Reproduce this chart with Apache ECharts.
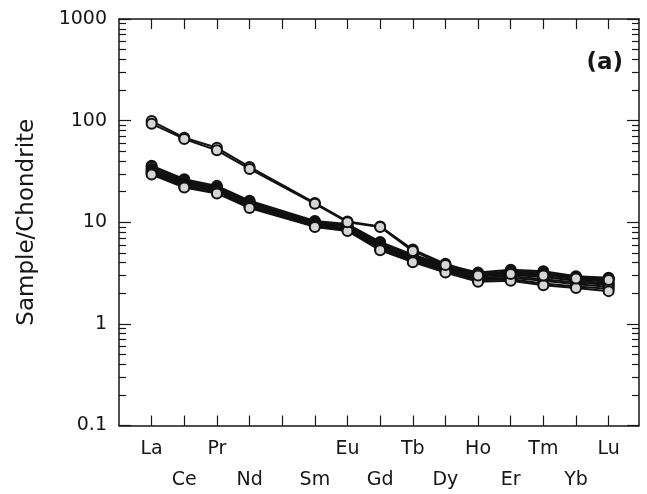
<!DOCTYPE html>
<html>
<head>
<meta charset="utf-8">
<script src="https://cdn.jsdelivr.net/npm/echarts@6/dist/echarts.min.js"></script>
<style>
html,body{margin:0;padding:0;background:#fff;}
#chart{width:647px;height:494px;}
</style>
</head>
<body>
<div id="chart"></div>
<script>
// Elements (Pm is a gap with no label and no data)
const elements = ['La','Ce','Pr','Nd','Pm','Sm','Eu','Gd','Tb','Dy','Ho','Er','Tm','Yb','Lu'];
const xLabels  = ['La','Ce','Pr','Nd','','Sm','Eu','Gd','Tb','Dy','Ho','Er','Tm','Yb','Lu'];
const yTicks = [0.1, 1, 10, 100, 1000];
const yMinorTicks = [0.2,0.3,0.4,0.5,0.6,0.7,0.8,0.9,
                     2,3,4,5,6,7,8,9,
                     20,30,40,50,60,70,80,90,
                     200,300,400,500,600,700,800,900];

// Chondrite-normalised REE patterns (La ... Lu, null at Pm)
const lowA = [36.0, 26.5, 22.8, 16.3, null, 10.3, 9.6, 6.4, 4.8, 3.8, 3.2, 3.4, 3.3, 2.95, 2.85];
const lowB = [35.0, 26.0, 22.0, 16.0, null, 10.1, 9.3, 6.2, 4.7, 3.7, 3.1, 3.3, 3.2, 2.85, 2.75];
const lowC = [33.5, 25.2, 21.6, 15.5, null, 9.9, 9.1, 6.0, 4.6, 3.65, 3.0, 3.15, 3.05, 2.75, 2.6];
const lowD = [32.5, 24.5, 21.2, 15.1, null, 9.7, 8.9, 5.85, 4.45, 3.55, 2.95, 3.05, 2.9, 2.65, 2.5];
const lowE = [31.5, 23.8, 20.7, 14.7, null, 9.5, 8.7, 5.7, 4.35, 3.45, 2.85, 2.95, 2.75, 2.55, 2.42];
const lowF = [30.8, 23.2, 20.1, 14.4, null, 9.3, 8.5, 5.55, 4.25, 3.4, 2.75, 2.85, 2.65, 2.45, 2.32];
const lowG = [30.0, 22.6, 19.6, 14.1, null, 9.15, 8.35, 5.45, 4.15, 3.32, 2.68, 2.75, 2.5, 2.33, 2.22];
const lowH = [29.5, 22.0, 19.2, 13.8, null, 9.0, 8.2, 5.3, 4.05, 3.2, 2.6, 2.65, 2.4, 2.25, 2.1];
const highA = [99.0, 68.0, 54.0, 35.0, null, 15.5, 10.2, 9.1, 5.4, 3.9, 3.1, 3.2, 3.1, 2.9, 2.8];
const highB = [93.0, 66.0, 51.0, 33.5, null, 15.2, 10.0, 9.0, 5.2, 3.8, 3.0, 3.1, 3.0, 2.8, 2.7];

const samples = [lowA, lowB, lowC, lowD, lowE, lowF, lowG, lowH, highA, highB];

const FONT = 'DejaVu Sans';
const INK = '#161616';

const chart = echarts.init(document.getElementById('chart'), null, {renderer: 'canvas'});

const allIdx = elements.map((e, i) => i);

function xAxisBase(pos, showLabel) {
  return {
    type: 'value', position: pos, min: -1, max: 14.93, interval: 1,
    axisLine: {show: true, onZero: false, lineStyle: {color: INK, width: 1.5}},
    axisTick: {show: true, inside: true, length: 10, customValues: allIdx, lineStyle: {color: INK, width: 1.2}},
    splitLine: {show: false},
    axisLabel: showLabel ? {
      show: true, customValues: allIdx, margin: 8, color: INK,
      fontFamily: FONT, fontSize: 19, lineHeight: 31, verticalAlign: 'top',
      formatter: function (v) {
        const i = Math.round(v);
        if (i < 0 || i >= xLabels.length || Math.abs(v - i) > 1e-6) return '';
        return (i % 2 === 1) ? '\n' + xLabels[i] : xLabels[i];
      }
    } : {show: false}
  };
}

function yAxisBase(pos, major, showLabel) {
  return {
    type: 'log', logBase: 10, position: pos, min: 0.1, max: 1000,
    axisLine: {show: major, onZero: false, lineStyle: {color: INK, width: 1.5}},
    axisTick: {show: true, inside: true, length: major ? 12 : 7,
               customValues: major ? yTicks : yMinorTicks,
               lineStyle: {color: INK, width: 1.2}},
    splitLine: {show: false},
    axisLabel: showLabel ? {
      show: true, customValues: yTicks, margin: 12, color: INK,
      fontFamily: FONT, fontSize: 19,
      formatter: function (v) { return String(+v.toPrecision(6)); }
    } : {show: false}
  };
}

const y0 = yAxisBase('left', true, true);
y0.name = 'Sample/Chondrite';
y0.nameLocation = 'middle';
y0.nameRotate = 90;
y0.nameGap = 80;
y0.nameTextStyle = {fontFamily: FONT, fontSize: 23, color: INK};

const option = {
  animation: false,
  backgroundColor: '#ffffff',
  title: {
    text: '(a)', right: 24, top: 52, padding: 0,
    textStyle: {fontFamily: FONT, fontWeight: 'bold', fontSize: 23, color: INK}
  },
  grid: {left: 119, right: 8, top: 19, bottom: 68.5, containLabel: false, outerBoundsMode: 'none'},
  xAxis: [xAxisBase('bottom', true), xAxisBase('top', false)],
  yAxis: [y0, yAxisBase('right', true, false), yAxisBase('left', false, false), yAxisBase('right', false, false)],
  series: samples.map((s, k) => ({
    type: 'line',
    xAxisIndex: 0, yAxisIndex: 0,
    data: s.map((v, i) => [i, v]).filter(d => d[1] !== null),
    symbol: 'circle', symbolSize: 10,
    itemStyle: {color: '#d6d6d6', borderColor: '#111', borderWidth: 2},
    lineStyle: {color: '#111', width: 2},
    z: 2 + k,
    silent: true
  }))
};

chart.setOption(option);
</script>
</body>
</html>
